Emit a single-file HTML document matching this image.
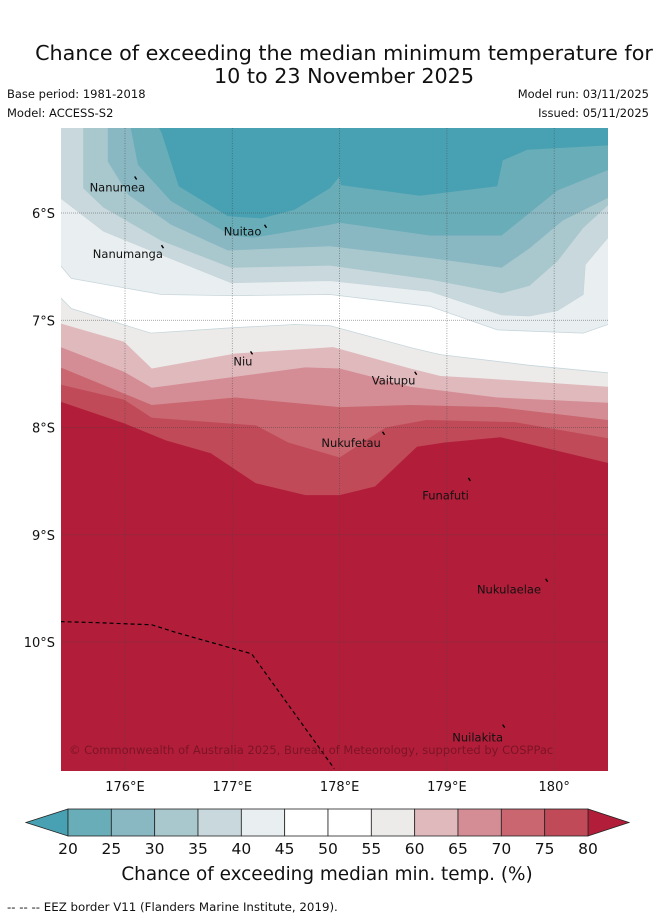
<!DOCTYPE html>
<html><head><meta charset="utf-8"><style>
html,body{margin:0;padding:0;background:#fff;}
svg{display:block;font-family:"DejaVu Sans","Liberation Sans",sans-serif;}
</style></head><body>
<svg id="chart" width="655" height="919" viewBox="0 0 655 919" xmlns="http://www.w3.org/2000/svg">
<text x="344" y="60" font-size="20.7" text-anchor="middle" fill="#111">Chance of exceeding the median minimum temperature for</text>
<text x="344" y="83" font-size="20.7" text-anchor="middle" fill="#111">10 to 23 November 2025</text>
<text x="7" y="98" font-size="11.5" fill="#111">Base period: 1981-2018</text>
<text x="7" y="117" font-size="11.5" fill="#111">Model: ACCESS-S2</text>
<text x="649" y="98" font-size="11.5" text-anchor="end" fill="#111">Model run: 03/11/2025</text>
<text x="649" y="117" font-size="11.5" text-anchor="end" fill="#111">Issued: 05/11/2025</text>
<defs><clipPath id="mapclip"><rect x="61" y="128" width="547" height="643"/></clipPath></defs>
<g id="map" clip-path="url(#mapclip)"></g>
<g id="axes"></g>
<g id="cbar"></g>
<text x="327" y="880" font-size="18.4" text-anchor="middle" fill="#111">Chance of exceeding median min. temp. (%)</text>
<text x="7" y="911" font-size="11.8" fill="#111">--  --  -- EEZ border V11 (Flanders Marine Institute, 2019).</text>
</svg>
<script>
const levels = [20,25,30,35,40,45,50,55,60,65,70,75,80];
const bandColors = ["#48a1b2","#69adb8","#89b8c3","#a9c8cd","#c9d8dd","#e9eff1","#ffffff","#ffffff","#ecebe9","#e0b9bd","#d58d95","#c9666f","#c04a58","#b21e3a"];
const lonTicks = [176,177,178,179,180];
const latTicks = [6,7,8,9,10];
// contour lines (lon, lat in degrees S)
const c20Lon = [176.20,176.34,176.50,176.96,177.27,177.58,177.91,178.00,178.01,178.75,179.47,179.52,179.75,180.50];
const c20Lat = [5.0,5.25,5.75,6.03,6.05,5.97,5.77,5.66,5.74,5.84,5.75,5.51,5.41,5.37];
const c25Lon = [176.00,176.06,176.12,176.43,176.99,177.20,177.91,178.00,178.84,179.51,179.77,180.03,180.50];
const c25Lat = [5.0,5.24,5.55,5.89,6.21,6.23,6.11,6.09,6.21,6.21,6.00,5.79,5.60];
const c30Lon = [175.84,175.84,175.84,176.03,176.43,176.96,177.91,178.84,179.51,179.77,180.08,180.50];
const c30Lat = [5.0,5.21,5.52,5.83,6.11,6.35,6.31,6.42,6.51,6.33,6.07,5.86];
const c35Lon = [175.61,175.61,175.80,176.34,176.99,177.91,178.84,179.51,179.77,180.03,180.27,180.50];
const c35Lat = [5.0,5.77,5.95,6.26,6.51,6.49,6.62,6.75,6.68,6.45,6.14,5.93];
const c40Lon = [175.40,175.80,176.34,176.99,177.91,178.84,179.51,179.77,180.03,180.27,180.29,180.50];
const c40Lat = [5.86,6.17,6.39,6.65,6.63,6.73,6.95,6.96,6.91,6.76,6.48,6.23];
const c45Lon = [175.40,175.50,176.34,176.99,177.91,178.84,179.47,180.27,180.50];
const c45Lat = [6.49,6.61,6.76,6.77,6.76,6.87,7.09,7.12,7.04];
const c55Lon = [175.40,175.50,176.24,176.99,177.58,177.91,178.68,178.94,179.77,180.50];
const c55Lat = [6.79,6.89,7.12,7.07,7.04,7.05,7.26,7.32,7.42,7.49];
const c60Lon = [175.40,175.99,176.25,177.03,177.94,178.66,178.94,179.31,180.50];
const c60Lat = [7.03,7.20,7.45,7.31,7.25,7.45,7.52,7.54,7.62];
const c65Lon = [175.40,175.99,176.25,177.68,178.00,178.66,179.47,180.50];
const c65Lat = [7.25,7.48,7.63,7.44,7.45,7.62,7.72,7.77];
const c70Lon = [175.40,176.25,177.03,178.00,178.66,179.47,180.50];
const c70Lat = [7.44,7.79,7.72,7.81,7.79,7.81,7.93];
const c75Lon = [175.40,175.99,176.25,177.22,177.52,178.00,178.43,178.81,179.63,180.50];
const c75Lat = [7.60,7.74,7.91,7.98,8.14,8.28,8.00,7.93,7.95,8.10];
const c80Lon = [175.40,175.99,176.38,176.80,177.22,177.68,178.00,178.33,178.72,178.98,179.50,180.50];
const c80Lat = [7.76,7.96,8.12,8.24,8.52,8.63,8.63,8.55,8.18,8.14,8.09,8.33];
const eezLon = [175.40,175.75,176.25,176.47,177.18,177.54,177.95];
const eezLat = [9.81,9.82,9.84,9.91,10.11,10.61,11.18];
const islandNames = ["Nanumea","Nuitao","Nanumanga","Niu","Vaitupu","Nukufetau","Funafuti","Nukulaelae","Nuilakita"];
const islandLon = [176.09,177.30,176.34,177.17,178.70,178.40,179.20,179.92,179.52];
const islandLat = [5.66,6.11,6.30,7.29,7.48,8.04,8.47,9.41,10.77];
const labelLon = [175.67,176.92,175.70,177.01,178.30,177.83,178.77,179.28,179.05];
const labelLat = [5.80,6.21,6.42,7.42,7.60,8.18,8.67,9.55,10.93];

const NS="http://www.w3.org/2000/svg";
const X = lon => 125 + (lon-176)*107.3;
const Y = lat => 213 + (lat-6)*107.25;
function mk(tag, attrs, parent){const e=document.createElementNS(NS,tag);for(const k in attrs)e.setAttribute(k,attrs[k]);parent.appendChild(e);return e;}
const map=document.getElementById('map');
const bg=mk('rect',{x:61,y:128,width:547,height:643,fill:bandColors[0]},map);


const contours=[[c20Lon,c20Lat,20],[c25Lon,c25Lat,25],[c30Lon,c30Lat,30],[c35Lon,c35Lat,35],[c40Lon,c40Lat,40],[c45Lon,c45Lat,45],[c55Lon,c55Lat,55],[c60Lon,c60Lat,60],[c65Lon,c65Lat,65],[c70Lon,c70Lat,70],[c75Lon,c75Lat,75],[c80Lon,c80Lat,80]];
contours.forEach(([lo,la,lev])=>{
  let pts=[];
  if(la[0]<=5.25) pts.push([X(175.2),Y(4.9)]);
  else pts.push([X(175.2),Y(la[0])]);
  for(let i=0;i<lo.length;i++) pts.push([X(lo[i]),Y(la[i])]);
  pts.push([X(180.7),Y(la[la.length-1])]);
  pts.push([X(180.7),Y(11.5)]);pts.push([X(175.2),Y(11.5)]);
  const idx=levels.indexOf(lev)+1;
  const p=mk('polygon',{points:pts.map(q=>q[0].toFixed(1)+','+q[1].toFixed(1)).join(' '),fill:bandColors[idx],stroke:(lev>=40&&lev<=55)?'#c7d6dc':'none','stroke-width':0.8},map);
  
  
});
lonTicks.forEach(l=>{const g=mk('line',{x1:X(l),x2:X(l),y1:128,y2:771,stroke:'#444','stroke-width':0.8,'stroke-dasharray':'1,1.5','stroke-opacity':0.6},map);

});
latTicks.forEach(l=>{const g=mk('line',{x1:61,x2:608,y1:Y(l),y2:Y(l),stroke:'#444','stroke-width':0.8,'stroke-dasharray':'1,1','stroke-opacity':0.6},map);

});
const ez=mk('polyline',{points:eezLon.map((l,i)=>X(l).toFixed(1)+','+Y(eezLat[i]).toFixed(1)).join(' '),fill:'none',stroke:'#000','stroke-width':1.2,'stroke-dasharray':'4,3'},map);


islandNames.forEach((n,i)=>{
  const d=mk('line',{x1:X(islandLon[i]),y1:Y(islandLat[i]),x2:X(islandLon[i])+2,y2:Y(islandLat[i])+3,stroke:'#000','stroke-width':1.4},map);
  
  
  const t=mk('text',{x:X(labelLon[i]),y:Y(labelLat[i]),'font-size':11.5,fill:'#111'},map);
  t.textContent=n;
  
  
});
const cp=mk('text',{x:69,y:754,'font-size':11.5,fill:'#6b1020','fill-opacity':0.75},map);
cp.textContent='© Commonwealth of Australia 2025, Bureau of Meteorology, supported by COSPPac';


const axes=document.getElementById('axes');
lonTicks.forEach(l=>{const t=mk('text',{x:X(l),y:791,'font-size':13,'text-anchor':'middle',fill:'#111'},axes);
t.textContent=l+'°'+(l===180?'':'E');

});
latTicks.forEach(l=>{const t=mk('text',{x:55,y:Y(l)+5,'font-size':13,'text-anchor':'end',fill:'#111'},axes);
t.textContent=l+'°S';

});
const cb=document.getElementById('cbar');
const cx0=68,cx1=588,cy0=809,cy1=836,seg=(cx1-cx0)/12;
const lt=mk('polygon',{points:`${cx0},${cy0} 26,${(cy0+cy1)/2} ${cx0},${cy1}`,fill:bandColors[0],stroke:'#222','stroke-width':0.8},cb);


const rt=mk('polygon',{points:`${cx1},${cy0} 629,${(cy0+cy1)/2} ${cx1},${cy1}`,fill:bandColors[13],stroke:'#222','stroke-width':0.8},cb);


for(let i=0;i<12;i++){const r=mk('rect',{x:cx0+i*seg,y:cy0,width:seg,height:cy1-cy0,fill:bandColors[i+1],stroke:'#222','stroke-width':0.8},cb);

}
levels.forEach((v,i)=>{const t=mk('text',{x:cx0+i*seg,y:854,'font-size':15.5,'text-anchor':'middle',fill:'#111'},cb);
t.textContent=v;

});
</script>
</body></html>
